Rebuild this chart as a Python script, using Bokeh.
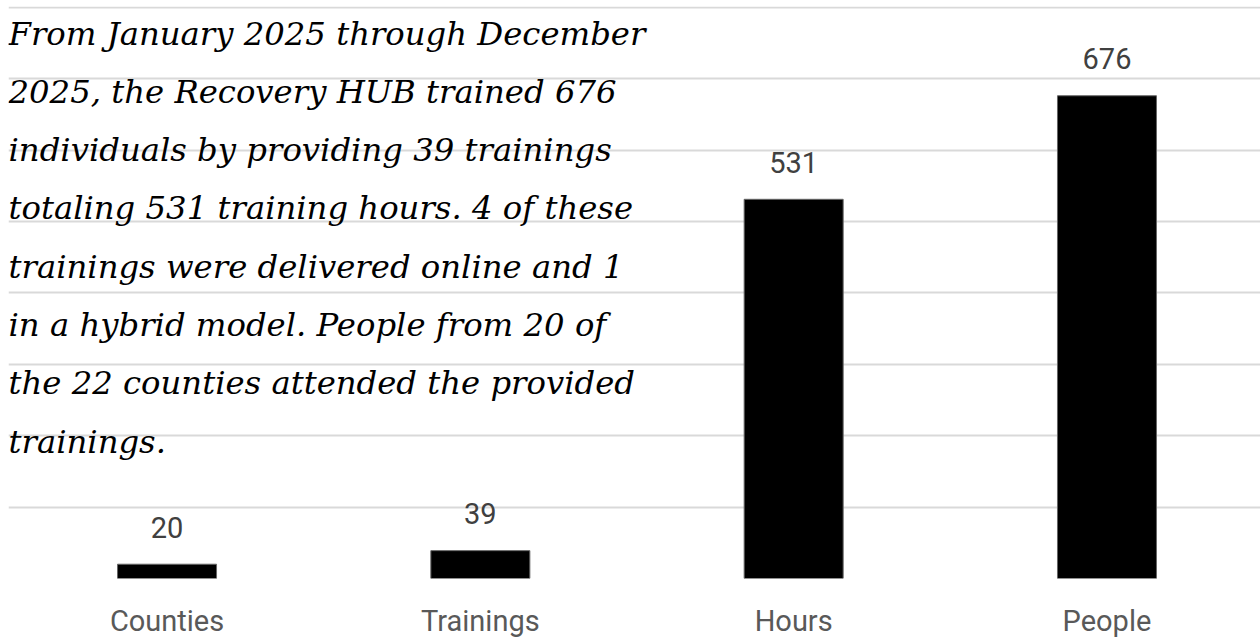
from bokeh.plotting import figure
from bokeh.models import ColumnDataSource, Range1d, FixedTicker, Label
from bokeh.embed import file_html
from bokeh.resources import INLINE

# ---- data ----
categories = ["Counties", "Trainings", "Hours", "People"]
values = [20, 39, 531, 676]
grid_ticks = [0, 100, 200, 300, 400, 500, 600, 700, 800]
caption_lines = [
    "From January 2025 through December",
    "2025, the Recovery HUB trained 676",
    "individuals by providing 39 trainings",
    "totaling 531  training hours. 4 of these",
    "trainings were delivered online and 1",
    "in a hybrid model. People from 20 of",
    "the 22 counties attended the provided",
    "trainings.",
]

positions = list(range(len(categories)))
src = ColumnDataSource(dict(x=positions, top=values, label=[str(v) for v in values]))

p = figure(width=1260, height=640, output_backend="svg", toolbar_location=None,
           x_range=Range1d(-0.506, 3.490), y_range=Range1d(0, 801),
           min_border_left=8, min_border_right=0, min_border_top=6, min_border_bottom=62)
p.outline_line_color = None
p.background_fill_color = "white"
p.border_fill_color = "white"

p.vbar(x="x", top="top", bottom=0, width=0.316, source=src,
       fill_color="black", line_color="#666666", line_width=1)

p.text(x="x", y="top", text="label", source=src, text_align="center",
       text_baseline="alphabetic", y_offset=-37, text_font_size="29px",
       text_color="#404040", text_font={"value": "Roboto"})

# axes
p.yaxis.visible = False
p.ygrid.ticker = FixedTicker(ticks=grid_ticks)
p.ygrid.grid_line_color = "#d9d9d9"
p.ygrid.grid_line_width = 2
p.xgrid.visible = False

p.xaxis.ticker = FixedTicker(ticks=positions)
p.xaxis.major_label_overrides = {i: c for i, c in zip(positions, categories)}
p.xaxis.axis_line_color = None
p.xaxis.major_tick_line_color = None
p.xaxis.minor_tick_line_color = None
p.xaxis.major_tick_out = 0
p.xaxis.major_tick_in = 0
p.xaxis.major_label_standoff = 25
p.xaxis.major_label_text_font = "Roboto"
p.xaxis.major_label_text_font_size = "29px"
p.xaxis.major_label_text_color = "#595959"

# caption paragraph
frame_h = 572
for i, line in enumerate(caption_lines):
    baseline_from_top = 27 + 58.3 * i
    p.add_layout(Label(x=0, y=frame_h - baseline_from_top, x_units="screen", y_units="screen",
                       text=line, text_font="DejaVu Serif", text_font_style="italic",
                       text_font_size="32.3px", text_color="black",
                       text_baseline="alphabetic", text_align="left"))

open("out.html", "w").write(file_html(p, INLINE))
